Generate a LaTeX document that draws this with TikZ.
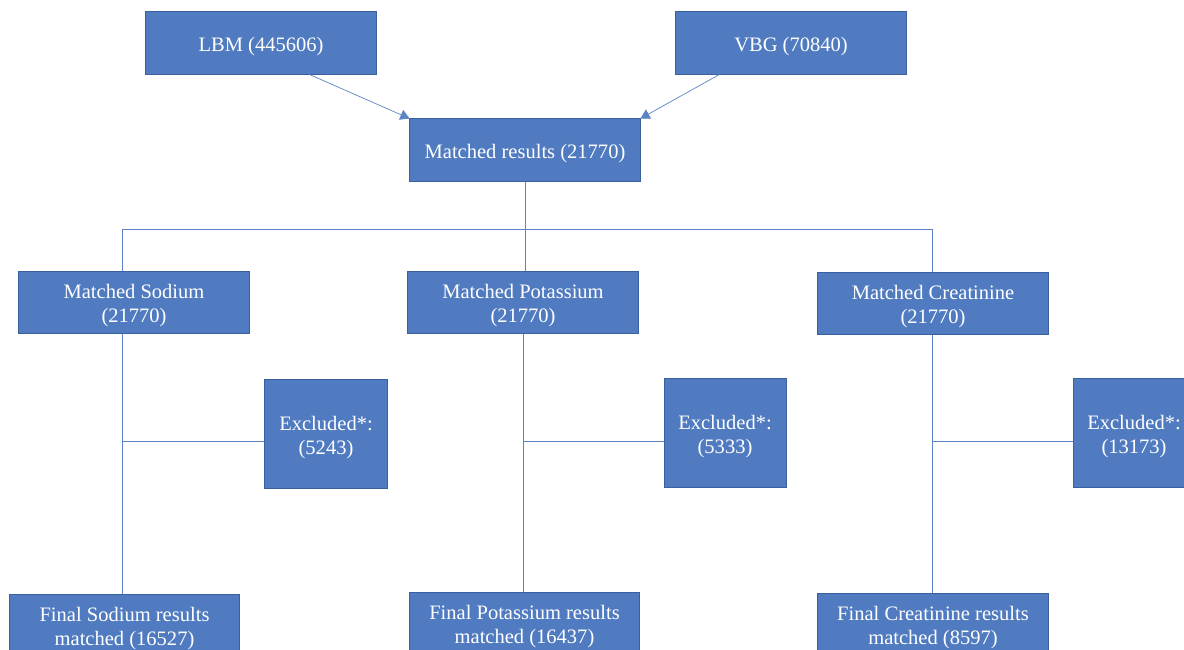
\documentclass[tikz,border=0pt]{standalone}
\usepackage{fontspec}
\setmainfont{Liberation Serif}
\usetikzlibrary{arrows.meta,calc}
\definecolor{boxfill}{RGB}{80,123,192}
\definecolor{boxline}{RGB}{58,96,160}
\definecolor{wire}{RGB}{91,131,198}
\newcommand{\lowstrut}{\rule{0pt}{15.5pt}}
\tikzset{
  flowbox/.style={draw=boxline,fill=boxfill,line width=0.7pt,text=white,align=center,
    minimum width=5.75cm,minimum height=1.55cm,inner sep=0pt,
    font=\fontsize{14.6}{17}\selectfont},
  exclbox/.style={flowbox,minimum width=3.05cm,minimum height=2.7cm},
  wireline/.style={draw=wire,line width=0.5pt}
}
\begin{document}
\begin{tikzpicture}[x=0.025cm,y=-0.025cm]
\useasboundingbox (0,0) rectangle (1184,650);
% sources and merge
\node[flowbox] (lbm) at (261,43) {\lowstrut LBM (445606)};
\node[flowbox] (vbg) at (791,43) {\lowstrut VBG (70840)};
\node[flowbox] (match) at (525,150) {\lowstrut Matched results (21770)};
\draw[wireline,-{Triangle[width=7.5pt,length=6.5pt]}] ($(lbm.south west)!0.71!(lbm.south east)$) -- (match.north west);
\draw[wireline,-{Triangle[width=7.5pt,length=6.5pt]}] ($(vbg.south west)!0.19!(vbg.south east)$) -- (match.north east);

% three analytes
\node[flowbox] (na) at (134,302) {\lowstrut Matched Sodium\\(21770)};
\node[flowbox] (k) at (523,302) {\lowstrut Matched Potassium\\(21770)};
\node[flowbox] (cr) at (933,303) {\lowstrut Matched Creatinine\\(21770)};
\node[exclbox] (naExcl) at (326,434) {\lowstrut Excluded*:\\(5243)};
\node[exclbox] (kExcl) at (725,433) {\lowstrut Excluded*:\\(5333)};
\node[exclbox] (crExcl) at (1134,433) {\lowstrut Excluded*:\\(13173)};
\node[flowbox] (naFinal) at (124.5,625) {\lowstrut Final Sodium results\\matched (16527)};
\node[flowbox] (kFinal) at (524.5,623) {\lowstrut Final Potassium results\\matched (16437)};
\node[flowbox] (crFinal) at (933,624) {\lowstrut Final Creatinine results\\matched (8597)};

% bus lines
\coordinate (bus) at (525,229);
\coordinate (naBus) at (122,229);
\coordinate (crBus) at (932,229);
\draw[wireline] (match.south -| bus) -- (bus);
\draw[wireline] (naBus) -- (crBus);
\draw[wireline] (naBus) -- (naBus |- na.north);
\draw[wireline] (bus) -- (bus |- k.north);
\draw[wireline] (crBus) -- (crBus |- cr.north);

% down to final results, with exclusions
\coordinate (naJoin) at (122,441);
\coordinate (kJoin) at (523,441);
\coordinate (crJoin) at (932,441);
\draw[wireline] (na.south -| naJoin) -- (naFinal.north -| naJoin);
\draw[wireline] (k.south -| kJoin) -- (kFinal.north -| kJoin);
\draw[wireline] (cr.south -| crJoin) -- (crFinal.north -| crJoin);
\draw[wireline] (naJoin) -- (naExcl.west |- naJoin);
\draw[wireline] (kJoin) -- (kExcl.west |- kJoin);
\draw[wireline] (crJoin) -- (crExcl.west |- crJoin);
\end{tikzpicture}
\end{document}
